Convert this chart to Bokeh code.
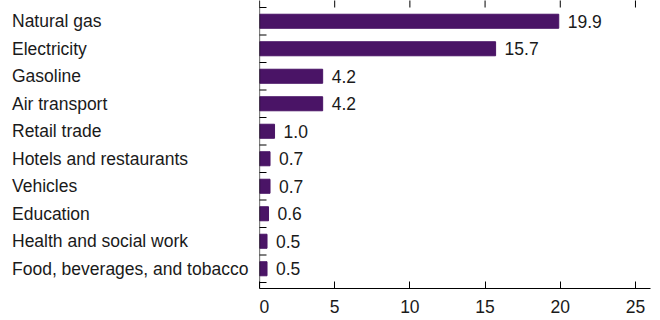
import math
from bokeh.plotting import figure
from bokeh.layouts import row
from bokeh.models import Range1d, FixedTicker, ColumnDataSource
from bokeh.core.properties import value
from bokeh.embed import file_html
from bokeh.resources import INLINE

categories = ["Natural gas", "Electricity", "Gasoline", "Air transport", "Retail trade",
              "Hotels and restaurants", "Vehicles", "Education", "Health and social work",
              "Food, beverages, and tobacco"]
values = [19.9, 15.7, 4.2, 4.2, 1.0, 0.7, 0.7, 0.6, 0.5, 0.5]
x_ticks = [0, 5, 10, 15, 20, 25]

n = len(categories)
ypos = [n - 1 - i for i in range(n)]
labels = [f"{v:.1f}" for v in values]
src = ColumnDataSource(dict(y=ypos, v=values, lab=labels, cat=categories, zero=[0] * n))
boundaries = [k - 0.5 for k in range(n + 1)]

FONT = "Liberation Sans"
FS = "17.5px"
COLOR = "#4a1466"
TXT = "#1a1a1a"

y_range = Range1d(-0.718, 9.755)
x_range = Range1d(0, 26)

# label panel (category names, left-aligned)
pl = figure(output_backend="svg", toolbar_location=None, frame_width=259, frame_height=288,
            x_range=Range1d(0, 1), y_range=y_range, x_axis_location=None, y_axis_location=None,
            min_border_left=0, min_border_right=0, min_border_top=0, min_border_bottom=30)
pl.outline_line_color = None
pl.grid.visible = False
pl.text(x="zero", y="y", text="cat", source=src, x_offset=11.5, text_baseline="middle",
        text_align="left", text_font=value(FONT), text_font_size=FS, text_color=TXT)

p = figure(output_backend="svg", toolbar_location=None, frame_width=391, frame_height=288,
           x_range=x_range, y_range=y_range, y_axis_location=None,
           min_border_left=0, min_border_right=10, min_border_top=0, min_border_bottom=0)
p.outline_line_color = None
p.grid.visible = False

p.hbar(y="y", right="v", left=0, height=0.51, source=src, color=COLOR)
p.text(x="v", y="y", text="lab", source=src, x_offset=9, text_baseline="middle",
       text_align="left", text_font=value(FONT), text_font_size=FS, text_color=TXT)

# inward tick marks along the top edge and the left edge (half of each dash is clipped by the frame)
p.scatter(x=x_ticks, y=[y_range.end] * len(x_ticks), marker="dash", size=14,
          angle=math.pi / 2, line_color="black", line_width=1)
p.scatter(x=[x_range.start] * len(boundaries), y=boundaries, marker="dash", size=14,
          line_color="black", line_width=1)
# left axis line
p.segment(x0=[x_range.start], x1=[x_range.start], y0=[y_range.start], y1=[y_range.end],
          line_color="black", line_width=1.2)

xa = p.xaxis[0]
xa.ticker = FixedTicker(ticks=x_ticks)
xa.major_tick_in = 7
xa.major_tick_out = 0
xa.minor_tick_line_color = None
xa.major_label_text_font = FONT
xa.major_label_text_font_size = FS
xa.major_label_text_color = TXT
xa.major_label_standoff = 11
xa.axis_line_color = "black"
xa.major_tick_line_color = "black"

layout = row(pl, p, spacing=0)
open("out.html", "w").write(file_html(layout, INLINE))
